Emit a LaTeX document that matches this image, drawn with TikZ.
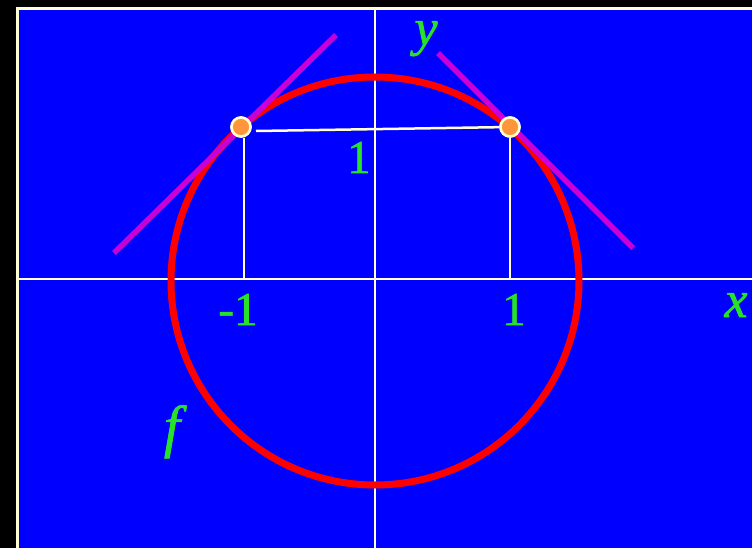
\documentclass[tikz,border=0pt]{standalone}
\usepackage{fontspec}
\setmainfont{Liberation Serif}
\newfontfamily\lblfont{Liberation Serif}[FakeBold=1.2]
\definecolor{bg}{RGB}{0,0,255}
\definecolor{lbl}{RGB}{40,225,40}
\definecolor{cream}{RGB}{255,255,210}
\definecolor{tang}{RGB}{200,0,215}
\definecolor{dot}{RGB}{255,150,60}
\tikzset{
  axis/.style={draw=cream, line width=2.8pt},
  guide/.style={draw=cream, line width=2.5pt},
  tangent/.style={draw=tang, line width=5.5pt},
  pt/.style={circle, fill=dot, draw=cream, line width=2.5pt, minimum size=19pt, inner sep=0pt},
  lab/.style={text=lbl, font=\lblfont\fontsize{47}{50}\selectfont, inner sep=0pt, anchor=base},
  ilab/.style={lab, font=\lblfont\itshape\fontsize{52}{56}\selectfont},
}
\begin{document}
\begin{tikzpicture}[x=1pt,y=-1pt]
\useasboundingbox (0,0) rectangle (752,548);
\clip (0,0) rectangle (752,548);
\fill[black] (0,0) rectangle (752,548);
\fill[cream] (16,7) rectangle (760,560);
\fill[bg] (19,10) rectangle (760,560);
% axes
\coordinate (xl) at (19,279);
\coordinate (xr) at (752,279);
\coordinate (yt) at (375,10);
\coordinate (yb) at (375,548);
\draw[axis] (xl) -- (xr);
\draw[axis] (yt) -- (yb);
% circle
\coordinate (o) at (375,281);
\draw[red, line width=7pt] (o) circle[radius=204];
% tangents
\coordinate (t1a) at (114,253);
\coordinate (t1b) at (336,35);
\coordinate (t2a) at (438,53);
\coordinate (t2b) at (633,248);
\draw[tangent] (t1a) -- (t1b);
\draw[tangent] (t2a) -- (t2b);
% points
\node[pt] (p1) at (241,127) {};
\node[pt] (p2) at (510,127) {};
\coordinate (f1) at (244,279);
\coordinate (f2) at (510,279);
\draw[guide] (p1.south -| f1) -- (f1);
\draw[guide] (p2) -- (f2);
\coordinate (c1) at (256,131);
\draw[guide] (c1) -- (p2);
\node[pt] (p1b) at (241,127) {};
\node[pt] (p2b) at (510,127) {};
% labels
\node[ilab] (ly) at (426,45) {y};
\node[ilab] (lx) at (736,317) {x};
\node[ilab, font=\lblfont\itshape\fontsize{58}{62}\selectfont] (lf) at (172,446) {f};
\node[lab] (l1) at (359,173) {1};
\node[lab] (lm1) at (238,325) {-1};
\node[lab] (lp1) at (514,325) {1};
\end{tikzpicture}
\end{document}
